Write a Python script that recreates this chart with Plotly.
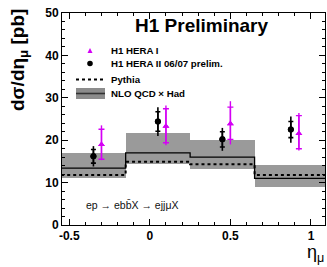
import plotly.graph_objects as go

# ---- data ----
bin_edges = [-0.55, -0.15, 0.25, 0.65, 1.1]
nlo = [13.4, 17.0, 16.0, 11.0]
nlo_up = [16.9, 21.7, 20.1, 14.1]
nlo_dn = [11.0, 14.3, 13.2, 9.0]
pythia = [11.8, 14.9, 14.3, 11.8]

hera2_x = [-0.35, 0.05, 0.45, 0.875]
hera2_y = [16.2, 24.4, 20.2, 22.5]
hera2_stat = [1.6, 2.3, 1.8, 1.9]
hera2_tot = [2.4, 3.4, 2.7, 3.1]

hera1_x = [-0.30, 0.10, 0.50, 0.925]
hera1_y = [19.0, 23.3, 23.9, 21.6]
hera1_stat_up = [3.6, 4.1, 3.9, 4.2]
hera1_stat_dn = [3.5, 3.9, 3.7, 3.6]
hera1_tot_up = [4.5, 4.9, 5.3, 4.8]
hera1_tot_dn = [3.7, 4.5, 4.9, 4.0]

y_ticks = [0, 10, 20, 30, 40, 50]
x_ticks = [-0.5, 0, 0.5, 1]
x_tick_labels = ["-0.5", "0", "0.5", "1"]

MAG = "#d400f5"
GRAY = "#9a9a9a"
FONT = "Liberation Sans"

centers = [(a + b) / 2 for a, b in zip(bin_edges[:-1], bin_edges[1:])]
widths = [b - a for a, b in zip(bin_edges[:-1], bin_edges[1:])]

fig = go.Figure()

# NLO uncertainty band
fig.add_trace(go.Bar(
    x=centers, y=[u - d for u, d in zip(nlo_up, nlo_dn)], base=nlo_dn, width=widths,
    marker=dict(color=GRAY, line=dict(width=0)), showlegend=False, hoverinfo="skip"))

# NLO central step line
fig.add_trace(go.Scatter(
    x=bin_edges, y=nlo + [nlo[-1]], mode="lines", line_shape="hv",
    line=dict(color="black", width=1.3), showlegend=False))

# Pythia dotted step line
fig.add_trace(go.Scatter(
    x=bin_edges, y=pythia + [pythia[-1]], mode="lines", line_shape="hv",
    line=dict(color="black", width=2, dash="dot"), showlegend=False))

# HERA II points: total error (no caps) + stat (caps)
fig.add_trace(go.Scatter(
    x=hera2_x, y=hera2_y, mode="markers",
    marker=dict(symbol="circle", size=6, color="black"),
    error_y=dict(type="data", array=hera2_tot, width=0, thickness=1.6, color="black"),
    showlegend=False))
fig.add_trace(go.Scatter(
    x=hera2_x, y=hera2_y, mode="markers",
    marker=dict(symbol="circle", size=6, color="black"),
    error_y=dict(type="data", array=hera2_stat, width=2.5, thickness=1.6, color="black"),
    showlegend=False))

# HERA I points
fig.add_trace(go.Scatter(
    x=hera1_x, y=hera1_y, mode="markers",
    marker=dict(symbol="triangle-up", size=6, color=MAG),
    error_y=dict(type="data", array=hera1_tot_up, arrayminus=hera1_tot_dn,
                 width=0, thickness=1.4, color=MAG),
    showlegend=False))
fig.add_trace(go.Scatter(
    x=hera1_x, y=hera1_y, mode="markers",
    marker=dict(symbol="triangle-up", size=6, color=MAG),
    error_y=dict(type="data", array=hera1_stat_up, arrayminus=hera1_stat_dn,
                 width=3, thickness=1.4, color=MAG),
    showlegend=False))

L, R, T, B = 62, 325, 13, 225
W, H = 327, 267

def px(x):
    return (x - L) / (R - L)

def py(y):
    return (B - y) / (B - T)

shapes = []
annotations = []
legend_font = dict(family=FONT, size=9.7, color="black", weight="bold")

# legend symbols
shapes.append(dict(type="path", xref="paper", yref="paper", xsizemode="pixel", ysizemode="pixel",
                   xanchor=px(90), yanchor=py(51), path="M -2.5 -2 L 2.5 -2 L 0 3 Z",
                   fillcolor=MAG, line=dict(width=0)))
shapes.append(dict(type="circle", xref="paper", yref="paper", xsizemode="pixel", ysizemode="pixel",
                   xanchor=px(90), yanchor=py(63.5), x0=-2.8, x1=2.8, y0=-2.8, y1=2.8,
                   fillcolor="black", line=dict(width=0)))
shapes.append(dict(type="line", xref="paper", yref="paper", x0=px(76), x1=px(105),
                   y0=py(79.5), y1=py(79.5), line=dict(color="black", width=2, dash="dot")))
shapes.append(dict(type="rect", xref="paper", yref="paper", x0=px(76), x1=px(105),
                   y0=py(99), y1=py(88), fillcolor="#8c8c8c", line=dict(width=0)))
shapes.append(dict(type="line", xref="paper", yref="paper", x0=px(76), x1=px(105),
                   y0=py(93.5), y1=py(93.5), line=dict(color="#333333", width=1.6)))

legend_items = [("H1 HERA I", 50), ("H1 HERA II 06/07 prelim.", 63.5),
                ("Pythia", 79), ("NLO QCD \u00d7 Had", 93.5)]
for txt, yy in legend_items:
    annotations.append(dict(text=txt, xref="paper", yref="paper", x=px(109), y=py(yy),
                            xanchor="left", yanchor="middle", showarrow=False, font=legend_font))

annotations.append(dict(text="H1 Preliminary", xref="paper", yref="paper", x=px(201), y=py(25.5),
                        xanchor="center", yanchor="middle", showarrow=False,
                        font=dict(family=FONT, size=19, color="black", weight="bold")))
annotations.append(dict(text="ep \u2192 ebb\u0304X \u2192 ejj\u03bcX", xref="paper", yref="paper",
                        x=px(84), y=py(205), xanchor="left", yanchor="middle", showarrow=False,
                        font=dict(family=FONT, size=10.5, color="#111111")))
annotations.append(dict(text="d\u03c3/d\u03b7<sub>\u03bc</sub> [pb]", xref="paper", yref="paper",
                        x=px(19), y=py(60), xanchor="center", yanchor="middle", showarrow=False,
                        textangle=-90,
                        font=dict(family=FONT, size=19, color="black", weight="bold")))
annotations.append(dict(text="\u03b7<sub>\u03bc</sub>", xref="paper", yref="paper",
                        x=px(315), y=py(253), xanchor="center", yanchor="middle", showarrow=False,
                        font=dict(family=FONT, size=18, color="black")))

axis_common = dict(showline=True, linecolor="black", linewidth=1, mirror="allticks",
                   ticks="inside", tickcolor="black", tickwidth=1, showgrid=False, zeroline=False)

fig.update_layout(
    width=W, height=H,
    margin=dict(l=L, r=W - R, t=T, b=H - B),
    paper_bgcolor="white", plot_bgcolor="white",
    barmode="overlay", bargap=0,
    showlegend=False,
    xaxis=dict(range=[-0.545, 1.087], tickvals=x_ticks, ticktext=x_tick_labels, ticklen=6,
               minor=dict(ticks="inside", dtick=0.1, tick0=0, ticklen=3, tickcolor="black"),
               tickfont=dict(family=FONT, size=12, color="black", weight="bold"),
               **axis_common),
    yaxis=dict(range=[0, 50], tickvals=y_ticks, ticklen=6,
               minor=dict(ticks="inside", dtick=2, tick0=0, ticklen=3, tickcolor="black"),
               tickfont=dict(family=FONT, size=12, color="black", weight="bold"),
               **axis_common),
    shapes=shapes, annotations=annotations,
)

fig.write_html("out.html", config={"displayModeBar": False},
               post_script="document.body.style.margin='0px';")
